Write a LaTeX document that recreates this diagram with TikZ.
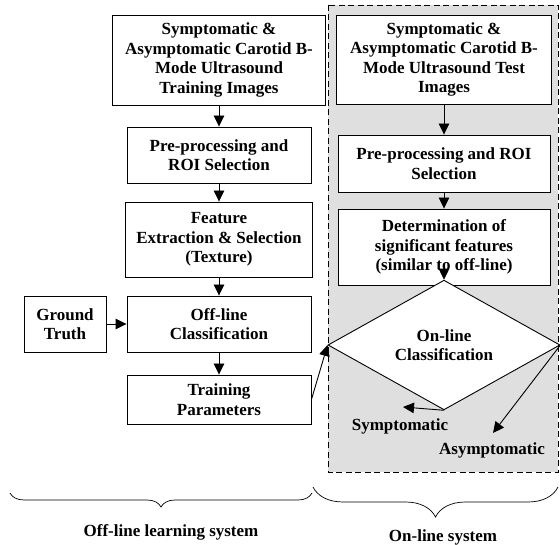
\documentclass[tikz,border=0pt]{standalone}
\usepackage{fontspec}
\setmainfont{Liberation Serif}
\usetikzlibrary{shapes.geometric,arrows.meta,decorations.pathreplacing}

\begin{document}
\begin{tikzpicture}[x=1pt, y=-1pt,
	font=\bfseries\fontsize{17}{19.5}\selectfont,
	box/.style={draw, line width=0.9pt, fill=white, align=center, inner sep=2pt},
	arr/.style={-{Triangle[length=11pt,width=10.5pt]}, line width=0.9pt},
	brc/.style={decorate, line width=0.7pt, decoration={brace, mirror, amplitude=#1}}]
	\useasboundingbox (0,0) rectangle (560,545);
	\draw [dash pattern=on 6pt off 3.5pt, line width=0.9pt, fill=gray!25] (328,5) rectangle (558,472);
	\node [box, minimum width=213pt, minimum height=90pt] (train) at (219,60) {Symptomatic \&\\ Asymptomatic Carotid B-\\ Mode Ultrasound\\ Training Images};
	\node [box, minimum width=184pt, minimum height=56pt] (prep) at (219,155) {Pre-processing and\\ ROI Selection};
	\node [box, minimum width=187pt, minimum height=75pt] (feat) at (219,239.5) {Feature\\ Extraction \& Selection\\ (Texture)};
	\node [box, minimum width=184pt, minimum height=56pt] (offline) at (219,324) {Off-line\\ Classification};
	\node [box, minimum width=82pt, minimum height=56pt] (gt) at (65,324) {Ground\\ Truth};
	\node [box, minimum width=184pt, minimum height=49pt] (param) at (219,399.5) {Training\\ Parameters};
	\node [box, minimum width=215pt, minimum height=89pt] (test) at (444,59.5) {Symptomatic \&\\ Asymptomatic Carotid B-\\ Mode Ultrasound Test\\ Images};
	\node [box, minimum width=212pt, minimum height=57pt] (roi) at (444,163.5) {Pre-processing and ROI\\ Selection};
	\node [box, minimum width=212pt, minimum height=76pt] (signif) at (444,247) {Determination of\\ significant features\\ (similar to off-line)};
	\node [box, diamond, minimum width=232pt, minimum height=115pt, inner sep=0pt] (online) at (444,345) {On-line\\ Classification};
	\node (sym) at (400,426) {Symptomatic};
	\node (asym) at (492,450) {Asymptomatic};
	\coordinate (symtip) at (403,407);
	\coordinate (asymtip) at (493,433);
	\draw [arr] (train) -- (prep);
	\draw [arr] (prep) -- (feat);
	\draw [arr] (feat) -- (offline);
	\draw [arr] (gt) -- (offline);
	\draw [arr] (offline) -- (param);
	\draw [arr] (param.east) -- (online.west);
	\draw [arr] (test) -- (roi);
	\draw [arr] (roi) -- (signif);
	\draw [arr] ([yshift=8pt]signif.south) -- (online.north);
	\draw [arr] (online.south) -- (symtip);
	\draw [arr] (online.east) -- (asymtip);
	\draw [brc=14pt] (10,493) -- (312,493);
	\draw [brc=30pt] (313,487) -- (558,487);
	\node (offsys) at (171,532) {Off-line learning system};
	\node (onsys) at (443,537) {On-line system};
\end{tikzpicture}
\end{document}
